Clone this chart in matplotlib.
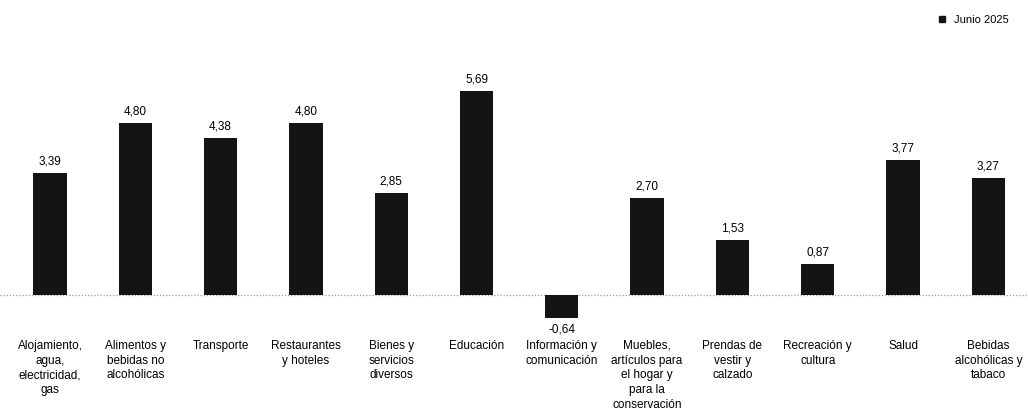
import numpy as np
import matplotlib.pyplot as plt
from matplotlib.lines import Line2D

plt.rcParams['font.family'] = ['Liberation Sans', 'DejaVu Sans']

categorias = [
    "Alojamiento,\nagua,\nelectricidad,\ngas",
    "Alimentos y\nbebidas no\nalcohólicas",
    "Transporte",
    "Restaurantes\ny hoteles",
    "Bienes y\nservicios\ndiversos",
    "Educación",
    "Información y\ncomunicación",
    "Muebles,\nartículos para\nel hogar y\npara la\nconservación",
    "Prendas de\nvestir y\ncalzado",
    "Recreación y\ncultura",
    "Salud",
    "Bebidas\nalcohólicas y\ntabaco",
]
junio_2025 = [3.39, 4.80, 4.38, 4.80, 2.85, 5.69, -0.64, 2.70, 1.53, 0.87, 3.77, 3.27]
serie = "Junio 2025"

x = np.arange(len(categorias))

fig = plt.figure(figsize=(10.28, 4.12), dpi=100)
ax = fig.add_axes([0, 0, 1, 1])
ax.bar(x, junio_2025, width=0.39, color="#141414")
ax.axhline(0, color="#9a9a9a", lw=0.9, ls=(0, (1, 1.5)), zorder=0)

for xi, v in zip(x, junio_2025):
    txt = f"{v:.2f}".replace(".", ",")
    if v >= 0:
        ax.annotate(txt, (xi, v), xytext=(0, 4), textcoords="offset points",
                    ha="center", va="bottom", fontsize=8.5)
    else:
        ax.annotate(txt, (xi, v), xytext=(0, -4), textcoords="offset points",
                    ha="center", va="top", fontsize=8.5)

for xi, lab in zip(x, categorias):
    ax.text(xi, -1.25, lab, ha="center", va="top", fontsize=8.5, linespacing=1.3)

ax.set_xlim(-0.586, 11.465)
ax.set_ylim(-3.264, 8.229)
ax.axis("off")

h = [Line2D([], [], marker="s", color="#141414", ls="none", markersize=4)]
fig.legend(h, [serie], loc="upper right", bbox_to_anchor=(0.99, 0.985),
           frameon=False, fontsize=8, handletextpad=0.1, borderpad=0.3)

fig.savefig("out.png", dpi=100)
